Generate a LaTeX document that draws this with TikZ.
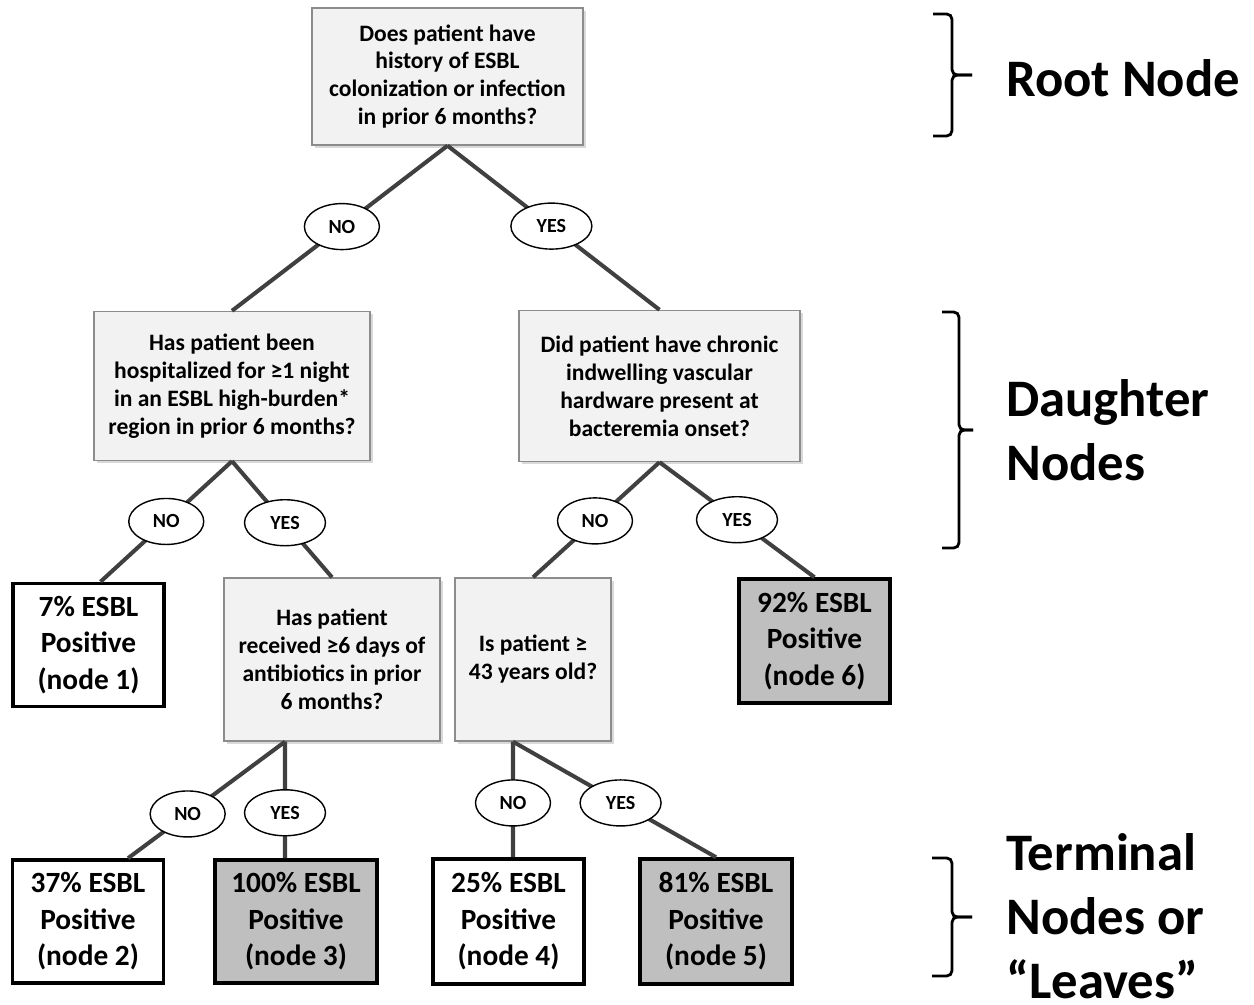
\documentclass[tikz,border=0pt]{standalone}
\usepackage{fontspec}
\setmainfont{Carlito}
\usetikzlibrary{shapes.geometric,shadows,positioning}

\begin{document}
\begin{tikzpicture}[
  question/.style={rectangle, draw=gray!90, line width=0.8pt, fill=black!5,
                   align=center, inner sep=2pt,
                   font=\fontsize{13.4}{15.9}\selectfont\bfseries,
                   drop shadow={shadow xshift=0.06cm, shadow yshift=-0.06cm, opacity=0.3}},
  leaf/.style={rectangle, draw=black, line width=2pt, fill=white, align=center,
               minimum width=3.02cm, minimum height=2.46cm, inner sep=2pt,
               font=\fontsize{16.7}{20.8}\selectfont\bfseries},
  positive/.style={leaf, fill=black!25},
  choice/.style={ellipse, draw=black, line width=0.8pt, fill=white, inner sep=0pt,
                 minimum width=1.5cm, minimum height=0.92cm,
                 font=\fontsize{11.4}{13}\selectfont\bfseries},
  yeschoice/.style={choice, minimum width=1.62cm},
  branch/.style={draw=black!75, line width=2.3pt},
  brace/.style={draw=black, line width=1.6pt, rounded corners=3pt},
  tier/.style={font=\fontsize{30}{36.4}\selectfont\bfseries, anchor=west,
               align=left, inner sep=0pt},
]
  \useasboundingbox (0,0) rectangle (25.08,20.08);

  % Row y-coordinates
  \def\yroot{18.55}
  \def\ydaughter{12.36}
  \def\yquest{6.89}
  \def\yleaf{1.65}

  % Root node
  \node[question, minimum width=5.42cm, minimum height=2.74cm] (root) at (8.95, \yroot)
       {Does patient have\\ history of ESBL\\ colonization or infection\\ in prior 6 months?};

  % Daughter nodes
  \node[question, minimum width=5.52cm, minimum height=2.98cm] (dleft) at (4.64, \ydaughter)
       {Has patient been\\ hospitalized for ≥1 night\\ in an ESBL high-burden*\\ region in prior 6 months?};
  \node[question, minimum width=5.62cm, minimum height=3.02cm] (dright) at (13.19, \ydaughter)
       {Did patient have chronic\\ indwelling vascular\\ hardware present at\\ bacteremia onset?};

  % Second split
  \node[leaf] (leaf1) at (1.77, 7.18) {7\% ESBL\\ Positive\\ (node 1)};
  \node[question, minimum width=4.32cm, minimum height=3.26cm] (q3) at (6.64, \yquest)
       {Has patient\\ received ≥6 days of\\ antibiotics in prior\\ 6 months?};
  \node[question, minimum width=3.12cm, minimum height=3.26cm] (q4) at (10.66, \yquest)
       {Is patient ≥\\ 43 years old?};
  \node[positive, minimum height=2.48cm] (leaf6) at (16.29, 7.26) {92\% ESBL\\ Positive\\ (node 6)};

  % Terminal leaves
  \node[leaf] (leaf2) at (1.76, \yleaf) {37\% ESBL\\ Positive\\ (node 2)};
  \node[positive, minimum width=3.24cm] (leaf3) at (5.92, \yleaf) {100\% ESBL\\ Positive\\ (node 3)};
  \node[leaf, minimum height=2.5cm] (leaf4) at (10.17, \yleaf) {25\% ESBL\\ Positive\\ (node 4)};
  \node[positive, minimum width=3.04cm, minimum height=2.5cm] (leaf5) at (14.32, \yleaf) {81\% ESBL\\ Positive\\ (node 5)};

  % Branches with NO / YES labels
  \draw[branch] (root.south) -- (dleft.north) node[choice, pos=0.49] (rootno) {NO};
  \draw[branch] (root.south) -- (dright.north) node[yeschoice, pos=0.49] (rootyes) {YES};

  \draw[branch] (dleft.south) -- ([xshift=0.24cm]leaf1.north) node[choice, pos=0.5] (dleftno) {NO};
  \draw[branch] (dleft.south) -- (q3.north) node[yeschoice, pos=0.53] (dleftyes) {YES};

  \draw[branch] (dright.south) -- (q4.north) node[choice, pos=0.51] (drightno) {NO};
  \draw[branch] (dright.south) -- (leaf6.north) node[yeschoice, pos=0.5] (drightyes) {YES};

  \coordinate (q3fork) at ([xshift=-0.94cm]q3.south);
  \draw[branch] (q3fork) -- ([xshift=0.8cm]leaf2.north) node[choice, pos=0.62] (q3no) {NO};
  \draw[branch] (q3fork) -- ([xshift=-0.22cm]leaf3.north) node[yeschoice, pos=0.61] (q3yes) {YES};

  \coordinate (q4fork) at ([xshift=-0.4cm]q4.south);
  \draw[branch] (q4fork) -- ([xshift=0.09cm]leaf4.north) node[choice, pos=0.53] (q4no) {NO};
  \draw[branch] (q4fork) -- (leaf5.north) node[yeschoice, pos=0.53] (q4yes) {YES};

  % Tier labels
  \node[tier] (rootlbl) at (20.12, 18.52) {Root Node};
  \node[tier] (daughterlbl) at (20.12, 11.48) {Daughter\\ Nodes};
  \node[tier] (terminallbl) at (20.12, 1.75) {Terminal\\ Nodes or\\ “Leaves”};

  % Braces
  \draw[brace] (18.66, 19.8) -- (19.04, 19.8) -- (19.04, 18.58) -- (19.44, 18.58);
  \draw[brace] (19.44, 18.58) -- (19.04, 18.58) -- (19.04, 17.36) -- (18.66, 17.36);
  \draw[brace] (18.84, 13.84) -- (19.18, 13.84) -- (19.18, 11.48) -- (19.46, 11.48);
  \draw[brace] (19.46, 11.48) -- (19.18, 11.48) -- (19.18, 9.12) -- (18.84, 9.12);
  \draw[brace] (18.64, 2.92) -- (19.04, 2.92) -- (19.04, 1.74) -- (19.44, 1.74);
  \draw[brace] (19.44, 1.74) -- (19.04, 1.74) -- (19.04, 0.56) -- (18.64, 0.56);

\end{tikzpicture}
\end{document}
